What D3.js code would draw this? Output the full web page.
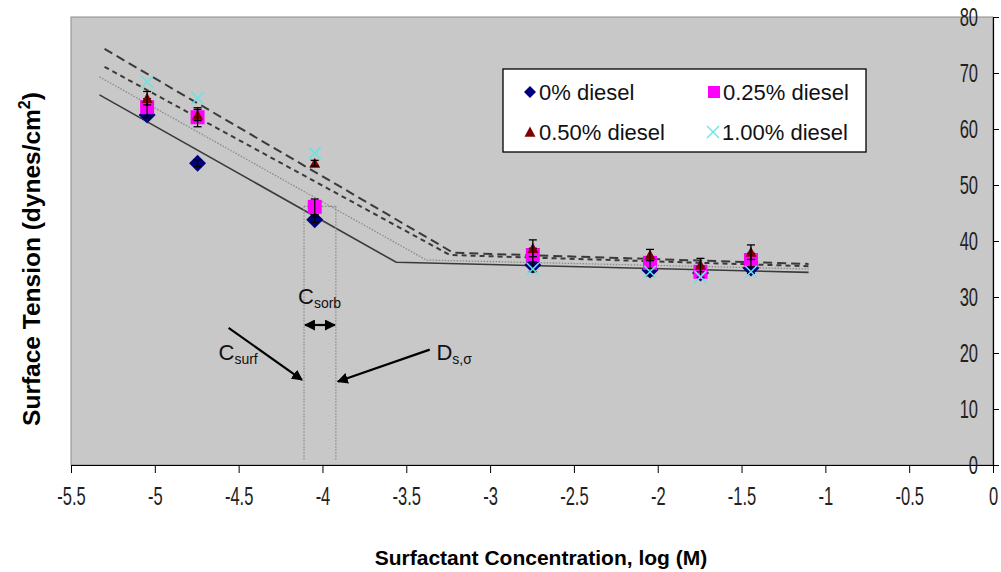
<!DOCTYPE html>
<html>
<head>
<meta charset="utf-8">
<script src="https://cdn.jsdelivr.net/npm/d3@7"></script>
<style>
  body { margin: 0; background: #fff; }
  text { font-family: "Liberation Sans", Arial, sans-serif; }
</style>
</head>
<body>
<div id="vis"></div>
<script>
// data
const logConc = [-5.046, -4.745, -4.046, -2.745, -2.046, -1.745, -1.444];
const st0   = [62.5, 53.9, 43.8, 35.7, 34.8, 34.3, 35.2];
const st025 = [63.9, 62.1, 46.1, 37.5, 36.1, 34.5, 36.6];
const st050 = [65.5, 62.5, 53.9, 38.7, 37.5, 35.7, 38.0];
const st100 = [68.4, 65.5, 55.7, 35.0, 34.5, 33.6, 34.5];
const err0   = [0.5, 0.6, 0.5, 1.2, 1.0, 0.8, 1.0];
const err025 = [1.5, 1.7, 1.4, 1.2, 1.0, 1.0, 1.2];
const err050 = [1.2, 1.0, 0.5, 1.5, 1.0, 1.2, 1.3];

// fitted two-segment lines
const fitX0   = [-5.33, -3.56, -1.10], fitY0   = [66.1, 36.2, 34.4];
const fitX025 = [-5.33, -3.38, -1.10], fitY025 = [69.3, 36.6, 35.0];
const fitX050 = [-5.30, -3.24, -1.10], fitY050 = [71.1, 37.5, 35.5];
const fitX100 = [-5.30, -3.22, -1.10], fitY100 = [74.3, 37.9, 35.9];

// guide lines
const cSurf = -4.11, dSigma = -3.92, guideTop = 46.2, guideBottom = 0.8;

const xTicks = d3.range(-5.5, 0.01, 0.5);
const yTicks = d3.range(0, 81, 10);
const legendLabels = ['0% diesel', '0.25% diesel', '0.50% diesel', '1.00% diesel'];

const W = 1001, H = 572;
let svg = d3.select('#vis').append('svg')
  .attr('width', W).attr('height', H);

let x = d3.scaleLinear().domain([-5.5, 0]).range([71, 993]);
let y = d3.scaleLinear().domain([0, 80]).range([465, 17]);

// plot area
svg.append('rect')
  .attr('x', x(-5.5)).attr('y', y(80))
  .attr('width', x(0) - x(-5.5)).attr('height', y(0) - y(80))
  .attr('fill', '#c8c8c8')
  .attr('stroke', '#8c8c8c').attr('stroke-width', 1);

// x axis
let xAxis = svg.append('g')
  .attr('transform', `translate(0,${y(0)})`)
  .call(d3.axisBottom(x).tickValues(xTicks).tickSize(8).tickSizeOuter(0).tickPadding(14)
    .tickFormat(d => String(+d.toFixed(1))));
xAxis.select('.domain').attr('stroke', '#000').attr('stroke-width', 1.2);
xAxis.selectAll('.tick line').attr('stroke', '#000');
xAxis.selectAll('text')
  .attr('font-size', 25).attr('fill', '#222')
  .attr('transform', 'scale(0.66,1)');

// y axis sits at x = 0, ticks point outward, labels inside
let yAxis = svg.append('g')
  .attr('transform', `translate(${x(0)},0)`)
  .call(d3.axisLeft(y).tickValues(yTicks).tickSize(-6).tickSizeOuter(0).tickPadding(14));
yAxis.select('.domain').attr('stroke', '#000').attr('stroke-width', 1.2);
yAxis.selectAll('.tick line').attr('stroke', '#000');
yAxis.selectAll('text')
  .attr('font-size', 25).attr('fill', '#222')
  .attr('x', -15 / 0.66)
  .attr('transform', 'scale(0.66,1)');

// fitted lines
let line = d3.line().x(d => x(d[0])).y(d => y(d[1]));
const fits = [
  {xs: fitX0, ys: fitY0, dash: null, color: '#3a3a3a', w: 1.6},
  {xs: fitX025, ys: fitY025, dash: '1.5,1.5', color: '#8a8a8a', w: 1.3},
  {xs: fitX050, ys: fitY050, dash: '5,4', color: '#3a3a3a', w: 2},
  {xs: fitX100, ys: fitY100, dash: '9,5', color: '#3a3a3a', w: 2}
];
fits.forEach(f => {
  svg.append('path')
    .attr('d', line(f.xs.map((v, i) => [v, f.ys[i]])))
    .attr('fill', 'none')
    .attr('stroke', f.color)
    .attr('stroke-width', f.w)
    .attr('stroke-dasharray', f.dash);
});

// guide lines for C_surf and D_s,sigma
[cSurf, dSigma].forEach(v => {
  svg.append('line')
    .attr('x1', x(v)).attr('x2', x(v))
    .attr('y1', y(guideTop)).attr('y2', y(guideBottom))
    .attr('stroke', '#8a8a8a').attr('stroke-width', 1.2)
    .attr('stroke-dasharray', '1.5,1.5');
});
svg.append('line')
  .attr('x1', x(cSurf)).attr('x2', x(dSigma))
  .attr('y1', y(guideTop)).attr('y2', y(guideTop))
  .attr('stroke', '#8a8a8a').attr('stroke-width', 1.2)
  .attr('stroke-dasharray', '1.5,1.5');

// marker shapes
function diamond(s) { return `M0,${-s}L${s},0L0,${s}L${-s},0Z`; }
function square(s) { return `M${-s},${-s}H${s}V${s}H${-s}Z`; }
function triangle(s) { return `M0,${-s}L${s},${s * 0.85}H${-s}Z`; }
function cross(s) { return `M${-s},${-s}L${s},${s}M${s},${-s}L${-s},${s}`; }

const series = [
  {vals: st0, err: err0, shape: diamond, size: 8.5, fill: '#000080', stroke: null},
  {vals: st025, err: err025, shape: square, size: 7, fill: '#ff00ff', stroke: null},
  {vals: st050, err: err050, shape: triangle, size: 5.5, fill: '#800000', stroke: null},
  {vals: st100, err: null, shape: cross, size: 6, fill: 'none', stroke: '#66e4e4'}
];

series.forEach(s => {
  let g = svg.append('g');
  g.selectAll('path')
    .data(s.vals)
    .join('path')
    .attr('transform', (d, i) => `translate(${x(logConc[i])},${y(d)})`)
    .attr('d', s.shape(s.size))
    .attr('fill', s.fill)
    .attr('stroke', s.stroke)
    .attr('stroke-width', s.stroke ? 1.6 : null);
  if (s.err) {
    let eg = svg.append('g').attr('stroke', '#000').attr('stroke-width', 1.3);
    s.vals.forEach((d, i) => {
      let cx = x(logConc[i]);
      eg.append('line').attr('x1', cx).attr('x2', cx)
        .attr('y1', y(d - s.err[i])).attr('y2', y(d + s.err[i]));
      [d - s.err[i], d + s.err[i]].forEach(v => {
        eg.append('line').attr('x1', cx - 4).attr('x2', cx + 4)
          .attr('y1', y(v)).attr('y2', y(v));
      });
    });
  }
});

// legend
let legend = svg.append('g');
legend.append('rect')
  .attr('x', 503).attr('y', 69).attr('width', 363).attr('height', 83)
  .attr('fill', '#fff').attr('stroke', '#000').attr('stroke-width', 1.3);
const legendPos = [[530, 92], [714, 92], [530, 132], [713, 132]];
const legendShapes = [
  {shape: diamond, size: 6, fill: '#000080', stroke: null},
  {shape: square, size: 6, fill: '#ff00ff', stroke: null},
  {shape: triangle, size: 5.5, fill: '#800000', stroke: null},
  {shape: cross, size: 6, fill: 'none', stroke: '#66e4e4'}
];
legendLabels.forEach((lab, i) => {
  let p = legendPos[i], sh = legendShapes[i];
  legend.append('path')
    .attr('transform', `translate(${p[0]},${p[1]})`)
    .attr('d', sh.shape(sh.size))
    .attr('fill', sh.fill)
    .attr('stroke', sh.stroke)
    .attr('stroke-width', sh.stroke ? 1.3 : null);
  legend.append('text')
    .attr('x', p[0] + 9).attr('y', p[1] + 8)
    .attr('font-size', 22).attr('fill', '#111')
    .text(lab);
});

// annotations
svg.append('defs').append('marker')
  .attr('id', 'ah').attr('viewBox', '0 0 10 10')
  .attr('refX', 9).attr('refY', 5)
  .attr('markerWidth', 5).attr('markerHeight', 5)
  .attr('orient', 'auto-start-reverse')
  .append('path').attr('d', 'M0,0L10,5L0,10Z').attr('fill', '#000');

function arrow(x1, y1, x2, y2, both) {
  svg.append('line')
    .attr('x1', x1).attr('y1', y1).attr('x2', x2).attr('y2', y2)
    .attr('stroke', '#000').attr('stroke-width', 2.2)
    .attr('marker-end', 'url(#ah)')
    .attr('marker-start', both ? 'url(#ah)' : null);
}
arrow(x(-4.56), y(24.5), x(cSurf) - 2, y(15.2));
arrow(x(-3.36), y(20.6), x(dSigma) + 2, y(14.9));
arrow(x(cSurf) + 1, y(25.0), x(dSigma) - 1, y(25.0), true);

function subLabel(px, py, main, sub) {
  let t = svg.append('text').attr('x', px).attr('y', py)
    .attr('font-size', 22).attr('fill', '#111');
  t.append('tspan').text(main);
  t.append('tspan').attr('font-size', 14).attr('dy', 4).text(sub);
}
subLabel(x(-4.62), y(18.7), 'C', 'surf');
subLabel(x(cSurf) - 6, y(28.8), 'C', 'sorb');
subLabel(x(-3.32), y(18.8), 'D', 's,σ');

// axis titles
svg.append('text')
  .attr('x', 541).attr('y', 565)
  .attr('text-anchor', 'middle')
  .attr('font-size', 21).attr('font-weight', 'bold')
  .text('Surfactant Concentration, log (M)');

let yt = svg.append('text')
  .attr('transform', 'translate(40,259) rotate(-90)')
  .attr('text-anchor', 'middle')
  .attr('font-size', 24.5).attr('font-weight', 'bold');
yt.append('tspan').text('Surface Tension (dynes/cm');
yt.append('tspan').attr('font-size', 16).attr('dy', -10).text('2');
yt.append('tspan').attr('dy', 10).text(')');
</script>
</body>
</html>
